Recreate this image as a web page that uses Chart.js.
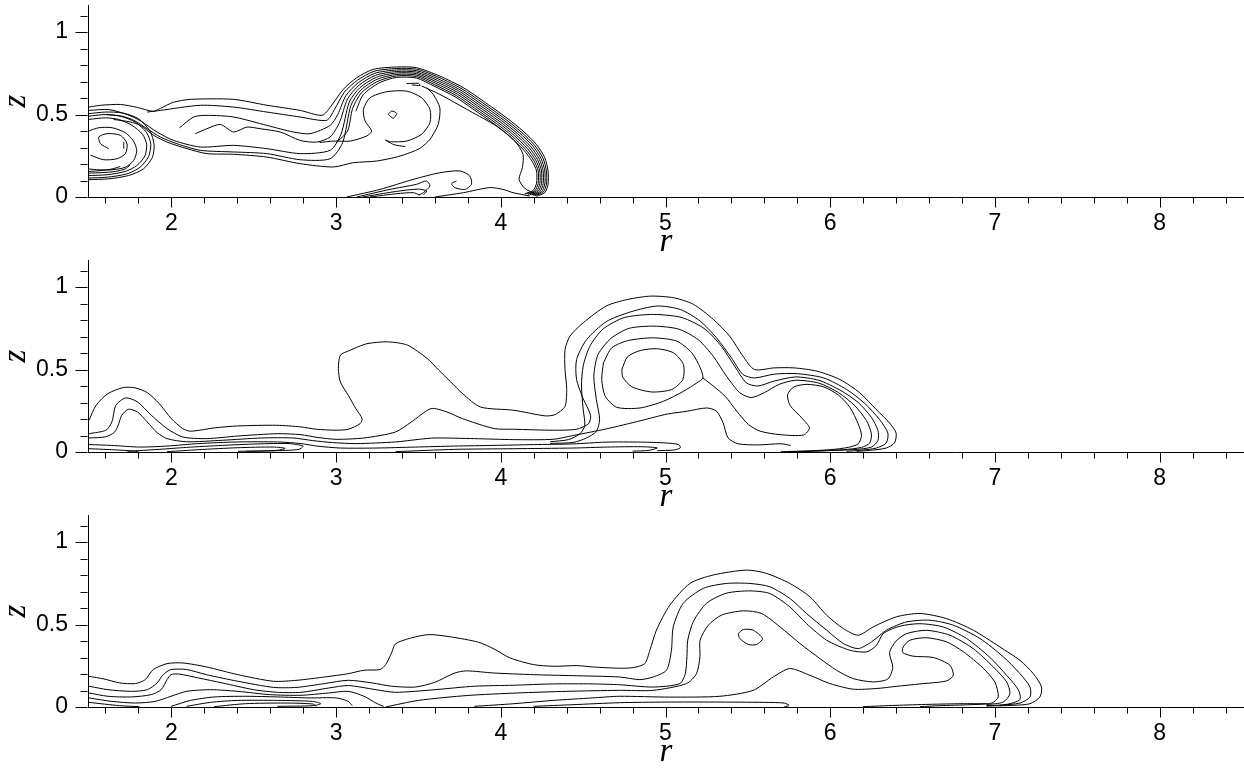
<!DOCTYPE html>
<html>
<head>
<meta charset="utf-8">
<title>Contours</title>
<script src="https://cdn.jsdelivr.net/npm/chart.js@4.4.1/dist/chart.umd.min.js"></script>
<style>
  html, body { margin: 0; padding: 0; background: #fff; }
  body { width: 1244px; height: 768px; position: relative; overflow: hidden; }
  .panel { position: absolute; left: 0; width: 1244px; height: 262px; }
</style>
</head>
<body>
<div class="panel" style="top:0px"><canvas id="c1" width="1244" height="262"></canvas></div>
<div class="panel" style="top:255px"><canvas id="c2" width="1244" height="262"></canvas></div>
<div class="panel" style="top:510px"><canvas id="c3" width="1244" height="262"></canvas></div>
<script>
// axes
const xRange = [1.494, 8.512];
const zRange = [0, 1.164];
const xMajor = [2, 3, 4, 5, 6, 7, 8];
const xTickLabels = ['2', '3', '4', '5', '6', '7', '8'];
const yMajor = [0, 0.5, 1];
const yTickLabels = ['0', '0.5', '1'];

// ---- panel 1 contour lines, [r, z] ----
const p1Outer = [[1.497,0.545],[1.57,0.556],[1.69,0.561],[1.794,0.543],[1.891,0.519],[1.933,0.537],[2.012,0.574],[2.115,0.592],[2.376,0.592],[2.582,0.556],[2.782,0.525],[2.915,0.495],[2.965,0.545],[3.044,0.653],[3.125,0.723],[3.226,0.774],[3.368,0.788],[3.489,0.784],[3.63,0.733],[3.772,0.663],[3.893,0.582],[4.034,0.481],[4.135,0.4],[4.216,0.319],[4.267,0.238],[4.287,0.158],[4.287,0.077],[4.267,0.026],[4.216,0.004]];
const p1B1 = [[1.853,0.515],[1.933,0.525],[2.176,0.556],[2.378,0.545],[2.58,0.515],[2.782,0.485],[2.943,0.465],[2.99,0.53],[3.05,0.635],[3.13,0.708],[3.23,0.762],[3.368,0.779],[3.489,0.775],[3.625,0.725],[3.765,0.655],[3.884,0.575],[4.024,0.475],[4.124,0.394],[4.205,0.314],[4.256,0.235],[4.277,0.158],[4.277,0.078],[4.257,0.028],[4.206,0.008]];
const p1B2 = [[2.05,0.42],[2.135,0.485],[2.216,0.495],[2.378,0.485],[2.58,0.434],[2.741,0.394],[2.842,0.384],[2.964,0.434],[3.01,0.50],[3.06,0.615],[3.135,0.693],[3.235,0.75],[3.368,0.770],[3.489,0.766],[3.62,0.716],[3.758,0.647],[3.875,0.568],[4.014,0.469],[4.113,0.389],[4.194,0.309],[4.245,0.232],[4.267,0.158],[4.267,0.079],[4.247,0.030],[4.196,0.010]];
const p1B3 = [[2.145,0.384],[2.216,0.414],[2.297,0.44],[2.378,0.394],[2.459,0.424],[2.539,0.414],[2.661,0.394],[2.782,0.343],[2.883,0.333],[2.964,0.364],[3.02,0.45],[3.07,0.595],[3.14,0.678],[3.24,0.738],[3.368,0.761],[3.489,0.757],[3.615,0.707],[3.751,0.639],[3.866,0.561],[4.004,0.463],[4.102,0.384],[4.183,0.304],[4.234,0.229],[4.257,0.158],[4.257,0.080],[4.237,0.032],[4.186,0.012]];
const p1B4 = [[1.497,0.525],[1.62,0.530],[1.731,0.50],[1.812,0.462],[1.913,0.394],[2.014,0.343],[2.176,0.303],[2.378,0.313],[2.58,0.293],[2.782,0.263],[2.964,0.283],[3.03,0.38],[3.08,0.575],[3.145,0.663],[3.245,0.726],[3.368,0.752],[3.489,0.748],[3.61,0.698],[3.744,0.631],[3.857,0.554],[3.994,0.457],[4.091,0.379],[4.172,0.299],[4.223,0.226],[4.247,0.158],[4.247,0.081],[4.227,0.034],[4.176,0.014]];
const p1B5 = [[1.60,0.50],[1.70,0.49],[1.772,0.465],[1.853,0.414],[1.933,0.364],[2.034,0.323],[2.176,0.283],[2.378,0.273],[2.58,0.263],[2.782,0.226],[2.964,0.232],[3.04,0.33],[3.09,0.555],[3.15,0.648],[3.25,0.714],[3.368,0.743],[3.489,0.739],[3.605,0.689],[3.737,0.623],[3.848,0.547],[3.984,0.451],[4.080,0.374],[4.161,0.294],[4.212,0.223],[4.237,0.158],[4.237,0.082],[4.217,0.036],[4.166,0.016]];
const p1B6 = [[3.0,0.33],[3.07,0.40],[3.10,0.535],[3.155,0.633],[3.255,0.702],[3.368,0.734],[3.489,0.730],[3.60,0.680],[3.73,0.615],[3.839,0.540],[3.974,0.445],[4.069,0.369],[4.15,0.289],[4.201,0.220],[4.227,0.158],[4.227,0.083],[4.207,0.038],[4.156,0.018]];
const p1B7 = [[3.12,0.52],[3.165,0.62],[3.262,0.692],[3.368,0.725],[3.489,0.721],[3.595,0.672],[3.722,0.608],[3.83,0.534],[3.964,0.44],[4.058,0.364],[4.139,0.285],[4.19,0.217],[4.217,0.158],[4.217,0.084],[4.197,0.040],[4.146,0.020]];
const p1Low = [[1.65,0.47],[1.75,0.455],[1.812,0.434],[1.893,0.374],[1.974,0.333],[2.095,0.293],[2.216,0.263],[2.378,0.259],[2.58,0.242],[2.782,0.202],[2.984,0.182],[3.105,0.208],[3.246,0.218],[3.388,0.248],[3.509,0.295],[3.57,0.350],[3.62,0.44],[3.63,0.541],[3.59,0.622],[3.549,0.663]];
const p1Loop = [[2.90,0.33],[2.982,0.339],[3.085,0.339],[3.186,0.370],[3.216,0.40],[3.176,0.461],[3.166,0.531],[3.206,0.602],[3.307,0.638],[3.428,0.642],[3.519,0.602],[3.57,0.531],[3.57,0.451],[3.519,0.380],[3.428,0.339],[3.33,0.335],[3.30,0.345],[3.35,0.318],[3.42,0.305]];
const p1Inner = [[3.519,0.673],[3.63,0.622],[3.812,0.521],[3.974,0.430],[4.085,0.339],[4.135,0.259],[4.131,0.178],[4.111,0.107],[4.145,0.053],[4.206,0.020]];
const p1Dash = [[3.428,0.687],[3.50,0.689],[3.51,0.676],[3.46,0.680]];
const p1Core = [[3.317,0.501],[3.337,0.521],[3.368,0.507],[3.347,0.477],[3.317,0.501]];
const p1Base1 = [[3.065,0.0],[3.267,0.046],[3.469,0.107],[3.63,0.147],[3.752,0.158],[3.812,0.127],[3.822,0.077],[3.782,0.046],[3.721,0.057],[3.701,0.081],[3.731,0.097]];
const p1Base2 = [[3.125,0.0],[3.327,0.046],[3.489,0.077],[3.549,0.097],[3.57,0.067],[3.53,0.026],[3.50,0.012]];
const p1Base3 = [[3.60,0.0],[3.772,0.026],[3.933,0.057],[4.014,0.046],[4.075,0.026],[4.176,0.006]];
const p1Base4 = [[3.206,0.0],[3.368,0.02],[3.469,0.026],[3.509,0.012]];
const p1Base5 = [[3.16,0.0],[3.36,0.033],[3.50,0.048],[3.55,0.036],[3.53,0.014]];
const p1V1 = [[1.497,0.505],[1.60,0.515],[1.70,0.51],[1.80,0.475],[1.87,0.40],[1.895,0.32],[1.885,0.24],[1.83,0.17],[1.74,0.13],[1.62,0.11],[1.497,0.105]];
const p1V2 = [[1.497,0.49],[1.60,0.50],[1.69,0.49],[1.78,0.455],[1.85,0.39],[1.875,0.32],[1.862,0.245],[1.81,0.18],[1.73,0.14],[1.61,0.12],[1.497,0.115]];
const p1V3 = [[1.497,0.47],[1.60,0.48],[1.68,0.47],[1.76,0.435],[1.825,0.38],[1.85,0.32],[1.84,0.25],[1.79,0.19],[1.72,0.155],[1.61,0.135],[1.497,0.13]];
const p1V4 = [[1.497,0.40],[1.56,0.42],[1.64,0.42],[1.72,0.39],[1.77,0.34],[1.79,0.28],[1.77,0.22],[1.72,0.18],[1.64,0.165],[1.56,0.165],[1.497,0.17]];
const p1V5 = [[1.620,0.293],[1.570,0.323],[1.560,0.364],[1.610,0.384],[1.691,0.374],[1.731,0.323],[1.721,0.263],[1.671,0.232],[1.590,0.226],[1.509,0.253]];
const p1Stub = [[1.711,0.333],[1.711,0.293]];
const p1Tail1 = [[1.497,0.145],[1.58,0.148],[1.66,0.155],[1.72,0.17],[1.75,0.195]];
const p1Tail2 = [[1.497,0.155],[1.57,0.16],[1.64,0.17],[1.69,0.185]];

// ---- panel 2 ----
const p2Outer = [[1.50,0.192],[1.543,0.283],[1.615,0.354],[1.71,0.391],[1.78,0.389],[1.854,0.360],[1.926,0.294],[2.00,0.202],[2.069,0.142],[2.117,0.126],[2.26,0.146],[2.404,0.158],[2.64,0.162],[2.787,0.152],[2.88,0.138],[3.00,0.132],[3.074,0.138],[3.146,0.172],[3.158,0.202],[3.12,0.263],[3.074,0.344],[3.026,0.425],[3.014,0.506],[3.026,0.587],[3.086,0.617],[3.134,0.638],[3.194,0.658],[3.313,0.668],[3.433,0.648],[3.553,0.567],[3.624,0.496],[3.696,0.425],[3.768,0.354],[3.876,0.273],[4.079,0.253],[4.27,0.219],[4.33,0.227],[4.39,0.277],[4.40,0.385],[4.39,0.50],[4.39,0.621],[4.42,0.702],[4.50,0.783],[4.64,0.885],[4.77,0.925],[4.91,0.945],[5.05,0.935],[5.17,0.895],[5.29,0.804],[5.39,0.702],[5.47,0.581],[5.54,0.5],[5.66,0.510],[5.78,0.510],[5.92,0.490],[6.06,0.439],[6.18,0.358],[6.28,0.257],[6.36,0.176],[6.40,0.115],[6.39,0.055],[6.34,0.024],[6.24,0.010],[6.16,0.004]];
const p2Second = [[1.50,0.111],[1.603,0.132],[1.639,0.182],[1.663,0.283],[1.722,0.328],[1.794,0.304],[1.878,0.223],[1.974,0.142],[2.069,0.091],[2.213,0.081],[2.404,0.097],[2.644,0.111],[2.787,0.105],[2.883,0.089],[3.00,0.077],[3.17,0.085],[3.36,0.121],[3.457,0.182],[3.577,0.263],[3.672,0.243],[3.768,0.202],[3.96,0.142],[4.079,0.138],[4.318,0.132],[4.46,0.138],[4.533,0.172],[4.545,0.223],[4.50,0.324],[4.46,0.44],[4.46,0.56],[4.52,0.68],[4.64,0.79],[4.79,0.85],[4.95,0.885],[5.09,0.864],[5.21,0.794],[5.31,0.692],[5.40,0.571],[5.47,0.470],[5.54,0.449],[5.66,0.472],[5.80,0.475],[5.96,0.449],[6.10,0.379],[6.21,0.294],[6.30,0.196],[6.35,0.115],[6.34,0.055],[6.28,0.024],[6.18,0.010],[6.10,0.004]];
const p2Third = [[1.50,0.085],[1.60,0.092],[1.655,0.12],[1.68,0.17],[1.699,0.223],[1.739,0.259],[1.794,0.243],[1.854,0.182],[1.914,0.117],[1.974,0.081],[2.093,0.062],[2.309,0.071],[2.548,0.085],[2.739,0.085],[2.859,0.069],[2.978,0.057],[3.122,0.051],[3.361,0.061],[3.505,0.077],[3.60,0.085],[3.84,0.081],[4.079,0.075],[4.318,0.077],[4.44,0.10],[4.64,0.14],[4.85,0.19],[5.01,0.23],[5.13,0.247],[5.25,0.267],[5.31,0.247],[5.35,0.176],[5.38,0.085],[5.44,0.05],[5.56,0.043],[5.70,0.050],[5.76,0.04]];
const p2Fourth = [[1.50,0.045],[1.639,0.040],[1.806,0.030],[1.974,0.036],[2.165,0.051],[2.404,0.061],[2.644,0.061],[2.787,0.051],[2.883,0.036],[3.026,0.024],[3.242,0.024],[3.481,0.030],[3.72,0.036],[3.959,0.040],[4.199,0.045],[4.438,0.049],[4.64,0.06],[4.85,0.06],[5.0,0.055],[5.08,0.045],[5.09,0.025],[5.05,0.012],[4.95,0.008]];
const p2Tongue1 = [[1.734,0.004],[1.926,0.016],[2.093,0.028],[2.309,0.040],[2.524,0.049],[2.715,0.051],[2.799,0.036],[2.775,0.016],[2.644,0.008],[2.404,0.004]];
const p2Tongue2 = [[1.974,0.002],[2.165,0.014],[2.404,0.026],[2.62,0.030],[2.691,0.022],[2.644,0.010],[2.452,0.004]];
const p2Base = [[3.361,0.002],[3.72,0.016],[4.079,0.020],[4.438,0.024],[4.65,0.03],[4.85,0.032],[4.95,0.025],[4.9,0.01],[4.8,0.005]];
const p2Edge = [[1.50,0.02],[1.68,0.012],[1.80,0.004]];
const p2Core = [[4.735,0.500],[4.769,0.577],[4.846,0.615],[4.947,0.626],[5.049,0.601],[5.109,0.530],[5.105,0.439],[5.038,0.379],[4.917,0.364],[4.796,0.395],[4.741,0.453],[4.735,0.500]];
const p2Ring = [[4.623,0.540],[4.674,0.632],[4.775,0.676],[4.927,0.692],[5.069,0.672],[5.160,0.601],[5.211,0.510],[5.227,0.449],[5.19,0.419],[5.109,0.368],[4.988,0.308],[4.846,0.267],[4.704,0.271],[4.634,0.338],[4.613,0.439],[4.623,0.540]];
const p2Wrap1 = [[4.30,0.062],[4.41,0.075],[4.48,0.11],[4.51,0.16],[4.50,0.26],[4.49,0.40],[4.50,0.52],[4.54,0.64],[4.62,0.745],[4.75,0.815],[4.927,0.834],[5.10,0.815],[5.24,0.745],[5.34,0.64],[5.42,0.52],[5.49,0.42],[5.56,0.40],[5.66,0.43],[5.79,0.455],[5.93,0.435],[6.06,0.375],[6.17,0.30],[6.25,0.21],[6.29,0.13],[6.29,0.07],[6.25,0.03],[6.15,0.015],[5.98,0.008],[5.82,0.002]];
const p2Wrap2 = [[4.30,0.052],[4.44,0.058],[4.52,0.085],[4.58,0.125],[4.60,0.196],[4.58,0.32],[4.565,0.46],[4.59,0.59],[4.67,0.69],[4.78,0.75],[4.93,0.763],[5.08,0.745],[5.20,0.68],[5.29,0.58],[5.37,0.46],[5.45,0.36],[5.52,0.33],[5.60,0.36],[5.69,0.41],[5.79,0.435],[5.93,0.418],[6.05,0.36],[6.15,0.28],[6.22,0.19],[6.25,0.11],[6.24,0.055],[6.19,0.028],[6.08,0.014],[5.90,0.006],[5.75,0.002]];
const p2Hook = [[5.227,0.449],[5.291,0.399],[5.362,0.338],[5.433,0.247],[5.504,0.166],[5.575,0.126],[5.696,0.105],[5.838,0.103],[5.874,0.146],[5.828,0.206],[5.757,0.281],[5.741,0.348],[5.78,0.395],[5.858,0.41],[5.96,0.395],[6.05,0.345],[6.12,0.27],[6.17,0.17],[6.19,0.10],[6.17,0.05],[6.11,0.028],[6.00,0.014],[5.85,0.006],[5.70,0.002]];

// ---- panel 3 ----
const p3Outer = [[1.50,0.186],[1.591,0.170],[1.687,0.146],[1.782,0.142],[1.842,0.166],[1.89,0.227],[1.974,0.263],[2.069,0.267],[2.213,0.243],[2.404,0.196],[2.62,0.156],[2.763,0.162],[2.93,0.182],[3.074,0.202],[3.17,0.223],[3.266,0.227],[3.301,0.257],[3.337,0.328],[3.361,0.383],[3.457,0.419],[3.565,0.439],[3.696,0.425],[3.864,0.393],[3.959,0.352],[4.055,0.298],[4.199,0.257],[4.318,0.247],[4.462,0.251],[4.557,0.243],[4.72,0.235],[4.804,0.239],[4.874,0.263],[4.905,0.344],[4.945,0.466],[5.026,0.617],[5.148,0.749],[5.289,0.800],[5.492,0.830],[5.613,0.810],[5.755,0.749],[5.877,0.668],[5.978,0.557],[6.079,0.476],[6.17,0.435],[6.261,0.486],[6.403,0.547],[6.545,0.567],[6.706,0.536],[6.868,0.466],[7.03,0.364],[7.152,0.283],[7.233,0.202],[7.283,0.121],[7.273,0.061],[7.213,0.020],[7.111,0.010],[6.949,0.006]];
const p3Second = [[1.50,0.126],[1.615,0.105],[1.758,0.095],[1.854,0.105],[1.914,0.146],[1.95,0.196],[1.998,0.227],[2.093,0.227],[2.213,0.196],[2.404,0.156],[2.62,0.119],[2.763,0.119],[2.93,0.142],[3.074,0.162],[3.218,0.146],[3.337,0.126],[3.481,0.121],[3.60,0.150],[3.72,0.206],[3.792,0.219],[3.959,0.206],[4.199,0.196],[4.438,0.190],[4.72,0.182],[4.844,0.166],[4.925,0.182],[5.006,0.223],[5.036,0.344],[5.047,0.486],[5.107,0.628],[5.229,0.719],[5.370,0.749],[5.512,0.749],[5.633,0.729],[5.755,0.658],[5.856,0.567],[5.978,0.466],[6.079,0.385],[6.17,0.354],[6.251,0.395],[6.342,0.466],[6.464,0.516],[6.605,0.526],[6.747,0.496],[6.909,0.415],[7.051,0.304],[7.152,0.202],[7.213,0.121],[7.213,0.061],[7.152,0.024],[7.03,0.010]];
const p3Third = [[1.50,0.085],[1.615,0.065],[1.758,0.061],[1.878,0.075],[1.938,0.105],[1.974,0.166],[1.998,0.196],[2.045,0.200],[2.165,0.176],[2.309,0.146],[2.50,0.105],[2.644,0.089],[2.787,0.089],[2.955,0.115],[3.074,0.130],[3.242,0.105],[3.361,0.089],[3.60,0.105],[3.84,0.126],[4.079,0.132],[4.318,0.140],[4.557,0.140],[4.72,0.135],[4.925,0.121],[5.087,0.142],[5.12,0.202],[5.13,0.304],[5.135,0.405],[5.17,0.52],[5.25,0.63],[5.37,0.69],[5.512,0.704],[5.633,0.688],[5.755,0.607],[5.856,0.506],[5.978,0.405],[6.119,0.344],[6.221,0.334],[6.281,0.374],[6.322,0.445],[6.423,0.49],[6.545,0.505],[6.686,0.485],[6.828,0.415],[6.97,0.30],[7.071,0.192],[7.142,0.105],[7.152,0.045],[7.071,0.016],[6.949,0.008]];
const p3Fourth = [[3.30,0.0],[3.50,0.04],[3.80,0.07],[4.10,0.085],[4.40,0.095],[4.72,0.101],[4.925,0.101],[5.128,0.142],[5.188,0.202],[5.209,0.304],[5.21,0.405],[5.26,0.496],[5.340,0.557],[5.472,0.583],[5.583,0.567],[5.695,0.486],[5.816,0.385],[5.937,0.294],[6.038,0.223],[6.14,0.172],[6.261,0.152],[6.35,0.17],[6.38,0.24],[6.36,0.33],[6.40,0.40],[6.464,0.445],[6.585,0.465],[6.727,0.435],[6.868,0.354],[6.99,0.243],[7.071,0.152],[7.091,0.081],[7.051,0.030],[6.949,0.014]];
const p3Rise = [[3.84,0.004],[4.079,0.020],[4.318,0.040],[4.557,0.055],[4.72,0.065],[5.026,0.06],[5.33,0.065],[5.532,0.101],[5.654,0.182],[5.755,0.233],[5.877,0.192],[5.998,0.142],[6.14,0.108],[6.28,0.112],[6.40,0.125],[6.545,0.14],[6.706,0.158],[6.747,0.192],[6.727,0.253],[6.626,0.300],[6.504,0.308],[6.44,0.33],[6.443,0.364],[6.484,0.405],[6.585,0.42],[6.706,0.395],[6.808,0.335],[6.929,0.235],[7.0,0.15],[7.02,0.061],[6.98,0.024],[6.848,0.014],[6.666,0.008],[6.545,0.002]];
const p3Floor = [[4.199,0.004],[4.438,0.014],[4.72,0.026],[5.0,0.03],[5.3,0.03],[5.6,0.028],[5.72,0.024],[5.75,0.01],[5.72,0.0]];
const p3Core = [[5.441,0.445],[5.472,0.470],[5.532,0.466],[5.589,0.415],[5.553,0.379],[5.504,0.379],[5.451,0.415],[5.441,0.445]];
const p3Low1 = [[1.50,0.055],[1.639,0.034],[1.782,0.024],[1.902,0.034],[1.998,0.065],[2.093,0.095],[2.237,0.105],[2.404,0.095],[2.596,0.075],[2.787,0.071],[2.955,0.085],[3.074,0.095],[3.17,0.065],[3.242,0.024],[3.289,0.004]];
const p3Low2 = [[1.50,0.028],[1.687,0.008],[1.806,0.002]];
const p3Low3 = [[1.998,0.004],[2.117,0.040],[2.261,0.061],[2.452,0.065],[2.644,0.061],[2.835,0.055],[3.002,0.055],[3.074,0.034],[3.098,0.008]];
const p3Tongue1 = [[2.093,0.004],[2.237,0.028],[2.404,0.040],[2.644,0.040],[2.859,0.034],[2.907,0.020],[2.859,0.008],[2.644,0.004]];
const p3Tongue2 = [[2.26,0.002],[2.45,0.02],[2.69,0.024],[2.86,0.018],[2.88,0.004]];
const p3Bottom = [[6.20,0.002],[6.40,0.01],[6.60,0.016],[6.80,0.02],[6.95,0.02]];

const panel1 = [p1Outer, p1B1, p1B2, p1B3, p1B4, p1B5, p1B6, p1B7, p1Low, p1Loop, p1Inner, p1Dash, p1Core,
  p1Base1, p1Base2, p1Base3, p1Base4, p1Base5, p1V1, p1V2, p1V3, p1V4, p1V5, p1Stub, p1Tail1, p1Tail2];
const panel2 = [p2Outer, p2Second, p2Third, p2Fourth, p2Tongue1, p2Tongue2, p2Base, p2Edge,
  p2Core, p2Ring, p2Wrap1, p2Wrap2, p2Hook];
const panel3 = [p3Outer, p3Second, p3Third, p3Fourth, p3Rise, p3Floor, p3Core,
  p3Low1, p3Low2, p3Low3, p3Tongue1, p3Tongue2, p3Bottom];

// minor tick positions
const xMinor = [];
for (let i = 8; i <= 42; i++) if (i % 5 !== 0) xMinor.push(i / 5);
const yMinor = [];
for (let i = 1; i <= 11; i++) if (i !== 5 && i !== 10) yMinor.push(i / 10);

const tickFont = { family: "'Liberation Sans', Arial, sans-serif", size: 23 };
const titleFont = { family: "'Liberation Serif', 'Times New Roman', serif", size: 33, style: 'italic' };

// draws outward tick marks: long for labelled values, short for the rest
const tickMarks = {
  id: 'tickMarks',
  afterDraw(chart) {
    const { ctx, scales: { x, y } } = chart;
    ctx.save();
    ctx.strokeStyle = '#000';
    ctx.lineWidth = 1;
    ctx.beginPath();
    const xb = Math.round(x.top) + 0.5;
    xMajor.forEach(v => {
      const px = Math.round(x.getPixelForValue(v)) + 0.5;
      ctx.moveTo(px, xb); ctx.lineTo(px, xb + 10);
    });
    xMinor.forEach(v => {
      const px = Math.round(x.getPixelForValue(v)) + 0.5;
      ctx.moveTo(px, xb); ctx.lineTo(px, xb + 6);
    });
    const yb = Math.round(y.right) - 0.5;
    yMajor.forEach(v => {
      const py = Math.round(y.getPixelForValue(v)) + 0.5;
      ctx.moveTo(yb, py); ctx.lineTo(yb - 12, py);
    });
    yMinor.forEach(v => {
      const py = Math.round(y.getPixelForValue(v)) + 0.5;
      ctx.moveTo(yb, py); ctx.lineTo(yb - 7, py);
    });
    ctx.stroke();
    ctx.restore();
  }
};

function makePanel(id, lines) {
  return new Chart(document.getElementById(id), {
    type: 'scatter',
    data: {
      datasets: lines.map(pts => ({
        data: pts.map(([r, z]) => ({ x: r, y: z })),
        showLine: true,
        borderColor: '#000',
        borderWidth: 1,
        pointRadius: 0,
        tension: 0.25,
        fill: false,
      }))
    },
    options: {
      responsive: false,
      animation: false,
      events: [],
      layout: { autoPadding: false, padding: { top: 5, right: 0, bottom: 0, left: 0 } },
      plugins: { legend: { display: false }, tooltip: { enabled: false } },
      scales: {
        x: {
          type: 'linear',
          min: xRange[0],
          max: xRange[1],
          afterBuildTicks: scale => { scale.ticks = xMajor.map(v => ({ value: v })); },
          afterFit: scale => { scale.height = 65; scale.paddingLeft = 0; scale.paddingRight = 0; },
          ticks: {
            autoSkip: false,
            maxRotation: 0,
            padding: 5,
            color: '#000',
            font: tickFont,
            callback: (v) => xTickLabels[xMajor.indexOf(v)] ?? ''
          },
          grid: { display: false },
          border: { display: true, color: '#000', width: 1 },
          title: { display: true, text: 'r', color: '#000', font: titleFont, padding: { top: 0, bottom: 0 } }
        },
        y: {
          type: 'linear',
          min: zRange[0],
          max: zRange[1],
          afterBuildTicks: scale => { scale.ticks = yMajor.map(v => ({ value: v })); },
          afterFit: scale => { scale.width = 88; scale.paddingTop = 0; scale.paddingBottom = 0; },
          ticks: {
            autoSkip: false,
            padding: 12,
            color: '#000',
            font: tickFont,
            callback: (v) => yTickLabels[yMajor.indexOf(v)] ?? ''
          },
          grid: { display: false },
          border: { display: true, color: '#000', width: 1 },
          title: { display: true, text: 'z', color: '#000', font: titleFont, padding: { top: -3, bottom: 0 } }
        }
      }
    },
    plugins: [tickMarks]
  });
}

makePanel('c1', panel1);
makePanel('c2', panel2);
makePanel('c3', panel3);
</script>
</body>
</html>
